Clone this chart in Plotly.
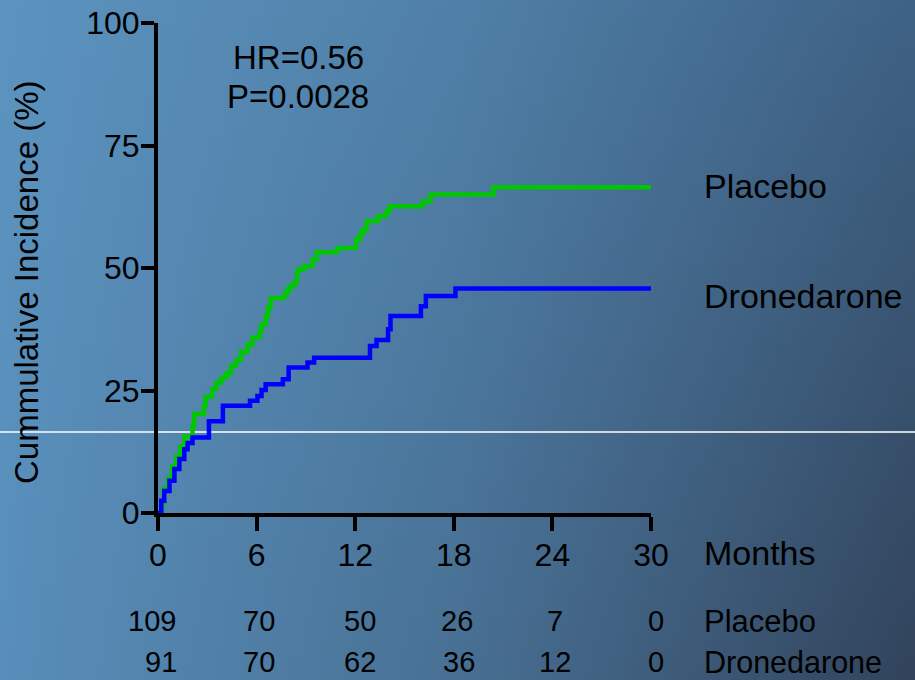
import base64
import struct
import zlib

import plotly.graph_objects as go

# ---- data -------------------------------------------------------------
placebo_months = [0, 0.25, 0.35, 0.6, 0.85, 1.1, 1.35, 1.6, 2.1, 2.2, 2.8, 2.9,
                  3.3, 3.55, 3.85, 4.15, 4.45, 4.75, 5.05, 5.45, 5.75, 6.2, 6.3,
                  6.56, 6.7, 6.86, 7.7, 7.9, 8.1, 8.3, 8.45, 8.5, 8.9, 9.4, 9.65,
                  10.9, 12.05, 12.3, 12.45, 12.7, 13.4, 13.9, 14.1, 16.1, 16.6,
                  20.4, 30]
placebo_incidence = [0, 2.0, 5.0, 7.0, 9.5, 11.5, 13.5, 15.6, 17.8, 20.2, 22.0, 23.7,
                     25.3, 26.6, 27.6, 28.5, 30.0, 31.2, 32.9, 34.4, 35.8, 37.2, 38.5,
                     40.2, 42.0, 43.9, 44.9, 45.8, 46.5, 47.0, 48.5, 49.7, 50.4, 51.7, 53.2,
                     54.1, 55.8, 57.0, 57.8, 59.6, 60.6, 61.6, 62.6, 63.6, 65.0,
                     66.5, 66.5]

drone_months = [0, 0.2, 0.38, 0.7, 1.0, 1.3, 1.6, 1.8, 2.1, 3.1, 3.95, 5.6, 6.05,
                6.3, 6.55, 7.6, 7.95, 9.1, 9.5, 12.9, 13.3, 14.0, 14.15, 16.0,
                16.3, 18.1, 30]
drone_incidence = [0, 2.5, 4.5, 6.6, 9.0, 11.0, 13.0, 14.3, 15.4, 18.7, 21.9, 22.9, 23.9,
                   25.1, 26.3, 27.3, 29.7, 30.7, 31.7, 34.1, 35.3, 37.5, 40.2, 42.2,
                   44.3, 45.8, 45.8]

risk_months = [0, 6, 12, 18, 24, 30]
risk_placebo = [109, 70, 50, 26, 7, 0]
risk_drone = [91, 70, 62, 36, 12, 0]

x_ticks = [0, 6, 12, 18, 24, 30]
y_ticks = [0, 25, 50, 75, 100]

# ---- page geometry ----------------------------------------------------
W, H = 915, 680
ML, MR, MT, MB = 158, 264, 23, 167
PW, PH = W - ML - MR, H - MT - MB

# small horizontal nudges (px) for the numbers-at-risk table cells
RISK_NUDGE_PLACEBO = [-6, 2, 5, 3, 3, 5]
RISK_NUDGE_DRONE = [3, 2, 5, 5, 3, 5]


def px(x):
    return (x - ML) / PW


def py(y):
    return (H - MB - y) / PH


# ---- background gradient (small PNG stretched over the page) ----------
def gradient_png(w, h):
    top = [(91, 147, 191), (80, 128, 168), (62, 98, 133)]
    bot = [(88, 142, 186), (72, 112, 148), (50, 68, 92)]

    def lerp3(stops, f):
        if f <= 0.5:
            a, b, t = stops[0], stops[1], f / 0.5
        else:
            a, b, t = stops[1], stops[2], (f - 0.5) / 0.5
        return [a[k] * (1 - t) + b[k] * t for k in range(3)]

    raw = bytearray()
    for j in range(h):
        fy = j / (h - 1)
        raw.append(0)
        for i in range(w):
            fx = i / (w - 1)
            c1, c2 = lerp3(top, fx), lerp3(bot, fx)
            for k in range(3):
                raw.append(int(round(c1[k] * (1 - fy) + c2[k] * fy)))

    def chunk(tag, data):
        return (struct.pack(">I", len(data)) + tag + data
                + struct.pack(">I", zlib.crc32(tag + data) & 0xFFFFFFFF))

    png = (b"\x89PNG\r\n\x1a\n"
           + chunk(b"IHDR", struct.pack(">IIBBBBB", w, h, 8, 2, 0, 0, 0))
           + chunk(b"IDAT", zlib.compress(bytes(raw)))
           + chunk(b"IEND", b""))
    return "data:image/png;base64," + base64.b64encode(png).decode()


FONT = "Liberation Sans, Arial, sans-serif"

fig = go.Figure()
fig.add_trace(go.Scatter(x=placebo_months, y=placebo_incidence, mode="lines",
                         line=dict(color="#00c800", width=4.5, shape="hv"),
                         name="Placebo", showlegend=False))
fig.add_trace(go.Scatter(x=drone_months, y=drone_incidence, mode="lines",
                         line=dict(color="#0000ff", width=4.5, shape="hv"),
                         name="Dronedarone", showlegend=False))

annotations = []


def label(text, x, y, size, xanchor="left", xref="paper", angle=0, xshift=0):
    annotations.append(dict(text=text, x=x, y=y, xref=xref, yref="paper",
                            xanchor=xanchor, yanchor="middle", showarrow=False,
                            textangle=angle, xshift=xshift,
                            font=dict(family=FONT, size=size, color="black")))


label("HR=0.56", px(298), py(58), 33, xanchor="center")
label("P=0.0028", px(298), py(96), 33, xanchor="center")
label("Placebo", px(702), py(186), 34)
label("Dronedarone", px(702), py(296), 34)
label("Months", px(702), py(553), 34)
label("Cummulative Incidence (%)", px(27), py(283), 33, xanchor="center", angle=-90)

for m, n, dx in zip(risk_months, risk_placebo, RISK_NUDGE_PLACEBO):
    label(str(n), m, py(621), 29, xanchor="center", xref="x", xshift=dx)
for m, n, dx in zip(risk_months, risk_drone, RISK_NUDGE_DRONE):
    label(str(n), m, py(662), 29, xanchor="center", xref="x", xshift=dx)
label("Placebo", px(702), py(621), 31)
label("Dronedarone", px(702), py(662), 30.5)

axis_common = dict(showline=True, linewidth=4, linecolor="black", ticks="outside",
                   tickwidth=4, tickcolor="black", showgrid=False, zeroline=False,
                   automargin=False,
                   tickfont=dict(family=FONT, size=32, color="black"))

fig.update_layout(
    template="none",
    width=W, height=H,
    margin=dict(l=ML, r=MR, t=MT, b=MB, pad=0, autoexpand=False),
    paper_bgcolor="rgba(0,0,0,0)", plot_bgcolor="rgba(0,0,0,0)",
    xaxis=dict(range=[0, 30], tickvals=x_ticks, ticklen=14,
               ticklabelstandoff=-3, **axis_common),
    yaxis=dict(range=[0, 100], tickvals=y_ticks, ticklen=13,
               ticklabelstandoff=-5, **axis_common),
    annotations=annotations,
    images=[dict(source=gradient_png(92, 68), xref="paper", yref="paper",
                 x=px(0), y=py(0), sizex=W / PW, sizey=H / PH,
                 xanchor="left", yanchor="top", sizing="stretch", layer="below")],
    shapes=[dict(type="line", xref="paper", yref="paper", x0=px(0), x1=px(W),
                 y0=py(432), y1=py(432), layer="between",
                 line=dict(color="white", width=1.5))],
)

fig.write_html("out.html")
